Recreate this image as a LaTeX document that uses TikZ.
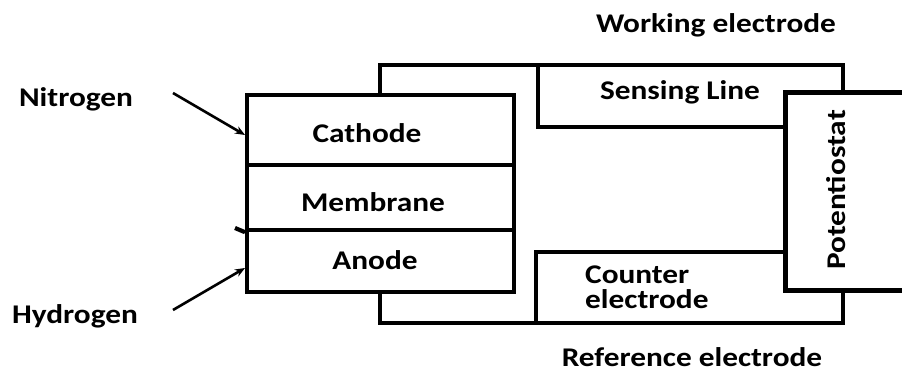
\documentclass[tikz,border=0pt]{standalone}
\usepackage{fontspec}
\setmainfont[FakeStretch=1.16]{Carlito}
\usetikzlibrary{arrows.meta}
\begin{document}
\begin{tikzpicture}[x=1pt,y=-1pt,
  lbl/.style={font=\bfseries\fontsize{27}{29}\selectfont, inner sep=0pt},
  cellbox/.style={draw, line width=4.2pt, minimum width=267pt, anchor=north west, inner sep=0pt, fill=white},
  wire/.style={line width=3.4pt, line join=miter},
  gasarrow/.style={line width=2.6pt, -{Stealth[length=10pt,width=8pt]}}]
\useasboundingbox (0,0) rectangle (902,377);
% cell
\node[cellbox, minimum height=70pt] (cath) at (245,93) {};
\node[cellbox, minimum height=65pt] (memb) at (245,163) {};
\node[cellbox, minimum height=62pt] (anod) at (245,228) {};
\draw[line width=4.2pt] (235,228) -- (memb.south west);
\node[lbl] (tcath) at (367,133) {Cathode};
\node[lbl] (tmemb) at (373,202) {Membrane};
\node[lbl] (tanod) at (375,260) {Anode};
% potentiostat
\node[inner sep=0pt, minimum width=120pt, minimum height=197pt, anchor=north west] (pot) at (785,93) {};
\draw[line width=5pt] (pot.north east) -- (pot.north west) -- (pot.south west) -- (pot.south east);
\node[lbl, rotate=90] (tpot) at (836,190) {Potentiostat};
% coordinates
\coordinate (wa) at (380,93);
\coordinate (wb) at (380,65);
\coordinate (wc) at (843,65);
\coordinate (wd) at (843,93);
\coordinate (sa) at (538,65);
\coordinate (sb) at (538,127);
\coordinate (sc) at (785,127);
\coordinate (ca) at (785,252);
\coordinate (cb) at (536,252);
\coordinate (cc) at (536,323);
\coordinate (ra) at (380,290);
\coordinate (rb) at (380,323);
\coordinate (rc) at (843,323);
\coordinate (rd) at (843,290);
\draw[wire] (wa) -- (wb) -- (wc) -- (wd);
\draw[wire] (sa) -- (sb) -- (sc);
\draw[wire] (ca) -- (cb) -- (cc);
\draw[wire] (ra) -- (rb) -- (rc) -- (rd);
% labels
\node[lbl] (twe) at (716,25) {Working electrode};
\node[lbl] (tsl) at (680,92) {Sensing Line};
\node[lbl, align=left, anchor=west] (tce) at (585,287) {Counter\\[-4pt]electrode};
\node[lbl] (tre) at (692,357) {Reference electrode};
\node[lbl] (tn) at (76,99) {Nitrogen};
\node[lbl] (th) at (75,316) {Hydrogen};
\coordinate (na) at (173,93);
\coordinate (nb) at (245,135);
\coordinate (ha) at (173,310);
\coordinate (hb) at (245,268);
\draw[gasarrow] (na) -- (nb);
\draw[gasarrow] (ha) -- (hb);
\end{tikzpicture}
\end{document}
